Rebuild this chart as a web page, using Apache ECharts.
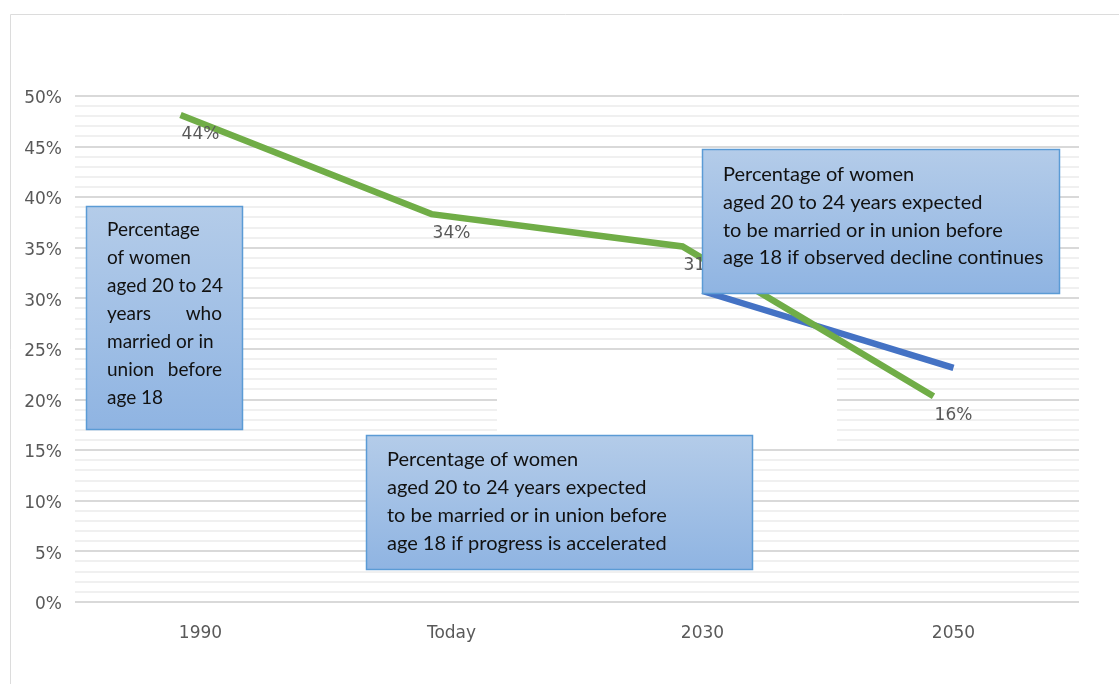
<!DOCTYPE html>
<html>
<head>
<meta charset="utf-8">
<script src="https://cdn.jsdelivr.net/npm/echarts@6/dist/echarts.min.js"></script>
<style>html,body{margin:0;padding:0;background:#fff;}#c{width:1119px;height:684px;}</style>
</head>
<body>
<div id="c"></div>
<script>
const categories = ['1990', 'Today', '2030', '2050'];
const observedValues = [48.1, 38.3, 35.1, 20.3];
const observedLabels = ['44%', '34%', '31%', '16%'];
const acceleratedValues = [null, null, 30.7, 23.1];
const yTicks = [0, 50, 5];

const FONT = 'Lato';
const AXFONT = 'DejaVu Sans';
const boxFill = new echarts.graphic.LinearGradient(0, 0, 0, 1, [
  { offset: 0, color: '#b4cce9' },
  { offset: 1, color: '#8fb4e2' }
]);
function boxRect(x, y, w, h) {
  return { type: 'rect', z: 100, shape: { x: x, y: y, width: w, height: h },
    style: { fill: boxFill, stroke: '#5b9bd5', lineWidth: 1.5 } };
}
function txt(x, y, s, size, align) {
  return { type: 'text', z: 101, x: x, y: y,
    style: { text: s, fill: '#111', font: size + 'px ' + FONT, textAlign: align || 'left', textVerticalAlign: 'middle' } };
}
const graphics = [
  { type: 'rect', z: 0, shape: { x: 10.5, y: 14.5, width: 1200, height: 700 }, style: { fill: 'none', stroke: '#dcdcdc', lineWidth: 1 } },
  { type: 'rect', z: 1, shape: { x: 497, y: 352, width: 340, height: 90 }, style: { fill: '#ffffff' } },
  boxRect(86.5, 206.5, 156, 223),
  txt(107, 230, 'Percentage', 19),
  txt(107, 258, 'of women', 19),
  txt(107, 286, 'aged 20 to 24', 19),
  txt(107, 314, 'years', 19),
  txt(222, 314, 'who', 19, 'right'),
  txt(107, 342, 'married or in', 19),
  txt(107, 370, 'union', 19),
  txt(222, 370, 'before', 19, 'right'),
  txt(107, 398, 'age 18', 19),
  boxRect(702.5, 149.5, 357, 144),
  txt(723, 175, 'Percentage of women', 20),
  txt(723, 203, 'aged 20 to 24 years expected', 20),
  txt(723, 231, 'to be married or in union before', 20),
  txt(723, 258, 'age 18 if observed decline continues', 20),
  boxRect(366.5, 435.5, 386, 134),
  txt(387, 460, 'Percentage of women', 20),
  txt(387, 488, 'aged 20 to 24 years expected', 20),
  txt(387, 516, 'to be married or in union before', 20),
  txt(387, 544, 'age 18 if progress is accelerated', 20)
];

const chart = echarts.init(document.getElementById('c'));
chart.setOption({
  animation: false,
  backgroundColor: '#ffffff',
  grid: [
    { left: 75, right: 40, top: 95.7, bottom: 82.3 },
    { left: 55, right: 60, top: 95.7, bottom: 82.3 }
  ],
  xAxis: [
    { type: 'category', data: categories, gridIndex: 0, boundaryGap: true,
      axisLine: { show: false }, axisTick: { show: false },
      axisLabel: { color: '#595959', fontSize: 17, fontFamily: AXFONT, margin: 23 } },
    { type: 'category', data: categories, gridIndex: 1, boundaryGap: true, show: false }
  ],
  yAxis: [
    { type: 'value', gridIndex: 0, min: yTicks[0], max: yTicks[1], interval: yTicks[2],
      axisLine: { show: false }, axisTick: { show: false },
      axisLabel: { formatter: '{value}%', color: '#595959', fontSize: 17, fontFamily: AXFONT, margin: 13, verticalAlign: 'top', lineHeight: 6 },
      splitLine: { lineStyle: { color: '#d9d9d9', width: 2 } },
      minorTick: { show: false, splitNumber: 5 },
      minorSplitLine: { show: true, lineStyle: { color: '#ebebeb', width: 1.5 } } },
    { type: 'value', gridIndex: 1, min: yTicks[0], max: yTicks[1], show: false, splitLine: { show: false } }
  ],
  series: [
    { type: 'line', name: 'observed', xAxisIndex: 1, yAxisIndex: 1, data: observedValues,
      showSymbol: true, symbol: 'circle', symbolSize: 0.01, itemStyle: { color: 'rgba(0,0,0,0)' }, z: 3,
      lineStyle: { color: '#70ad47', width: 6.5, cap: 'butt', join: 'miter' },
      label: { show: true, position: 'bottom', distance: 11, offset: [20, 0], color: '#595959', fontSize: 17, fontFamily: AXFONT,
        formatter: p => observedLabels[p.dataIndex] } },
    { type: 'line', name: 'accelerated', xAxisIndex: 0, yAxisIndex: 0, data: acceleratedValues,
      showSymbol: false, symbol: 'none', z: 2,
      lineStyle: { color: '#4472c4', width: 6.5, cap: 'butt' } }
  ],
  graphic: graphics
});
</script>
</body>
</html>
